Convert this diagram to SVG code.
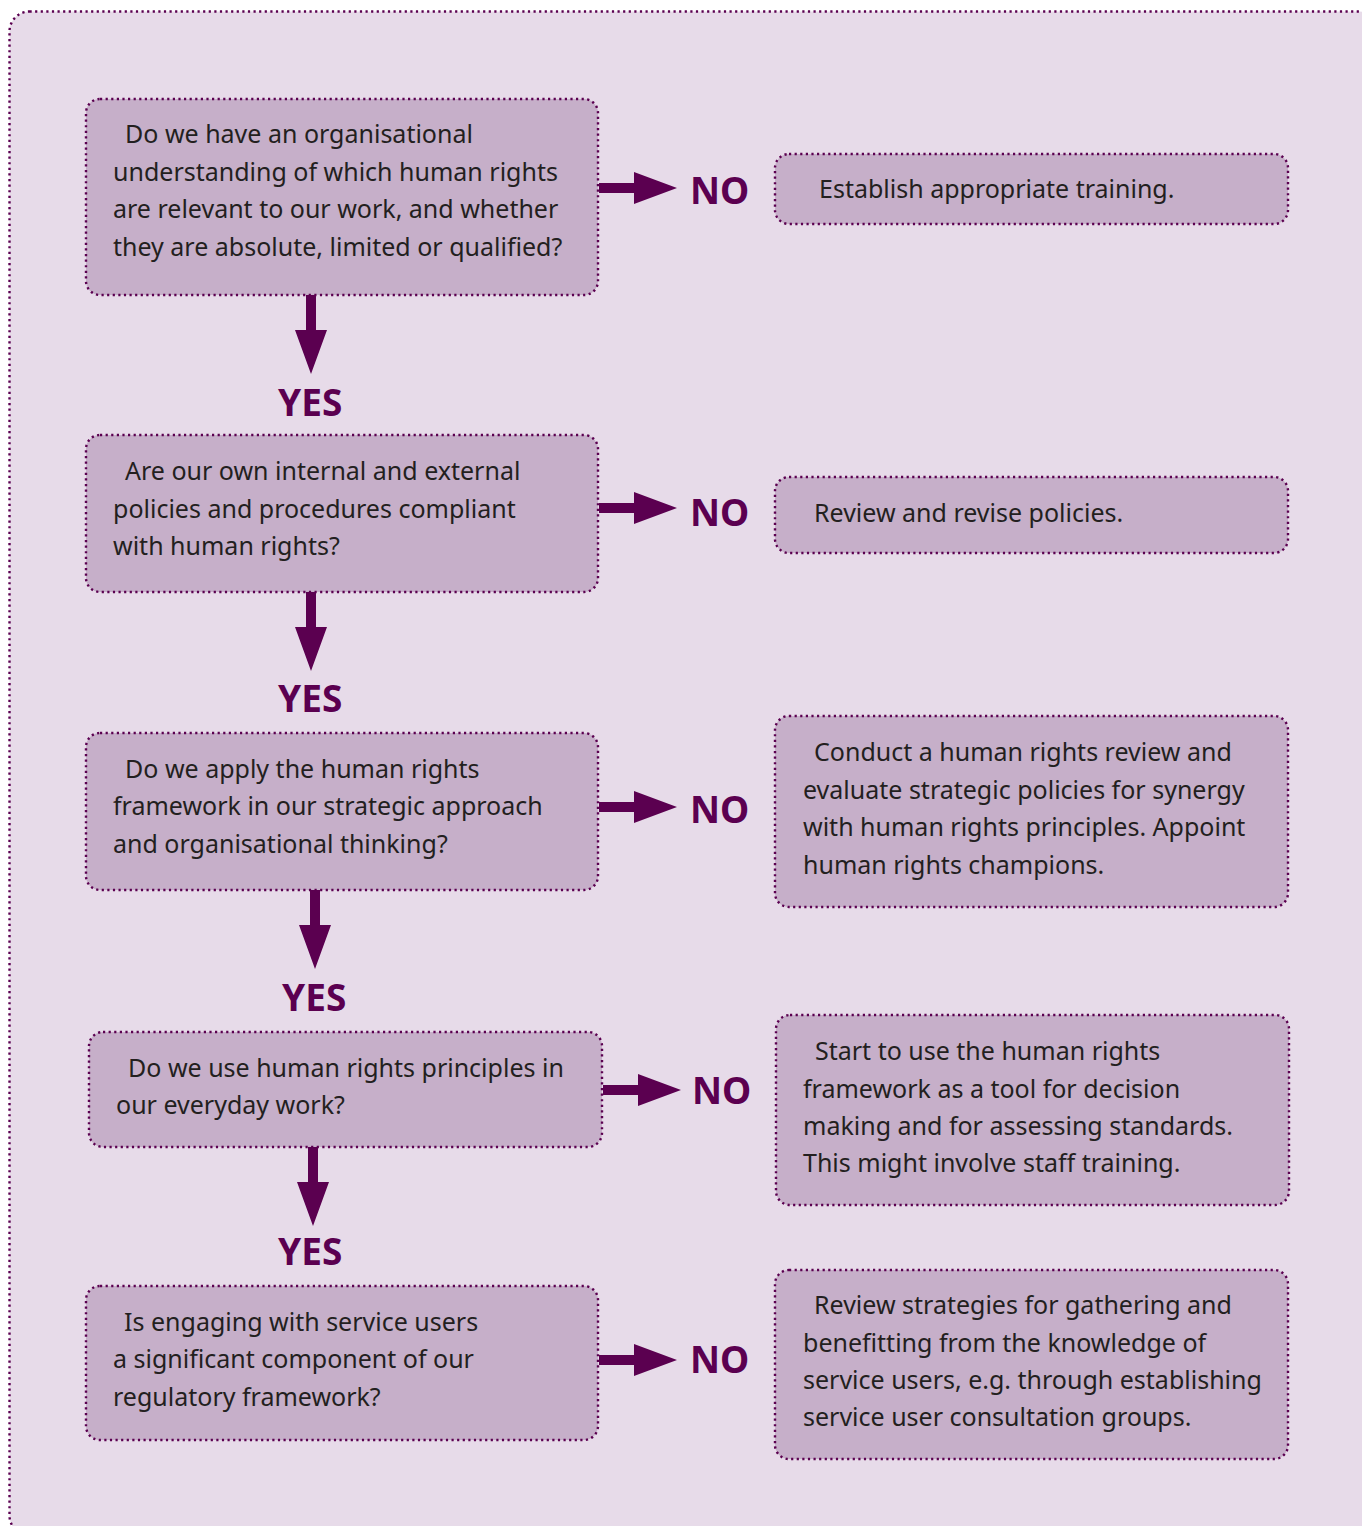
<svg xmlns="http://www.w3.org/2000/svg" xmlns:xlink="http://www.w3.org/1999/xlink" width="1362" height="1526" viewBox="0 0 1362 1526">
<style>
.frame{fill:#e7dbe9;stroke:#5b0050;stroke-width:2.4;stroke-dasharray:2.2 3.4}
.box{fill:#c6afc9;stroke:#5b0050;stroke-width:2.4;stroke-dasharray:2.2 3.4}
.t{font-family:"Noto Sans","Open Sans",sans-serif;font-size:25px;fill:#231f20}
.lbl{font-family:"Noto Sans","Open Sans",sans-serif;font-size:37px;font-weight:bold;fill:#5b0050}
.arr{fill:#5b0050}
</style>
<defs>
<path id="arrowR" d="M0,-5 H35 V-16 L78,0 L35,16 V5 H0 Z"/>
<path id="arrowD" d="M-5,0 V35 H-16 L0,79 L16,35 H5 V0 Z"/>
</defs>
<rect x="0" y="0" width="1362" height="1526" fill="#ffffff"/>
<rect class="frame" x="9.5" y="11.5" width="1370" height="1524" rx="20"/>

<g id="connectors" class="arr">
<use xlink:href="#arrowR" x="599" y="188"/>
<use xlink:href="#arrowR" x="599" y="508"/>
<use xlink:href="#arrowR" x="599" y="807"/>
<use xlink:href="#arrowR" x="603" y="1090"/>
<use xlink:href="#arrowR" x="599" y="1360"/>
<use xlink:href="#arrowD" x="311" y="295"/>
<use xlink:href="#arrowD" x="311" y="592"/>
<use xlink:href="#arrowD" x="315" y="890"/>
<use xlink:href="#arrowD" x="313" y="1147"/>
</g>

<g id="labels">
<text class="lbl" x="690" y="204">NO</text>
<text class="lbl" x="690" y="526">NO</text>
<text class="lbl" x="690" y="823">NO</text>
<text class="lbl" x="692" y="1104">NO</text>
<text class="lbl" x="690" y="1373">NO</text>
<text class="lbl" x="278" y="416">YES</text>
<text class="lbl" x="278" y="712">YES</text>
<text class="lbl" x="282" y="1011">YES</text>
<text class="lbl" x="278" y="1265">YES</text>
</g>

<g id="q1">
<rect class="box" x="86" y="99" width="512" height="196" rx="14"/>
<text class="t"><tspan x="125" y="143">Do we have an organisational</tspan><tspan x="113" y="180.5">understanding of which human rights</tspan><tspan x="113" y="218">are relevant to our work, and whether</tspan><tspan x="113" y="255.5">they are absolute, limited or qualified?</tspan></text>
</g>
<g id="a1">
<rect class="box" x="775" y="154" width="513" height="70" rx="14"/>
<text class="t" x="819" y="198">Establish appropriate training.</text>
</g>

<g id="q2">
<rect class="box" x="86" y="435" width="512" height="157" rx="14"/>
<text class="t"><tspan x="125" y="480">Are our own internal and external</tspan><tspan x="113" y="518">policies and procedures compliant</tspan><tspan x="113" y="555">with human rights?</tspan></text>
</g>
<g id="a2">
<rect class="box" x="775" y="477" width="513" height="76" rx="14"/>
<text class="t" x="814" y="522">Review and revise policies.</text>
</g>

<g id="q3">
<rect class="box" x="86" y="733" width="512" height="157" rx="14"/>
<text class="t"><tspan x="125" y="778">Do we apply the human rights</tspan><tspan x="113" y="815">framework in our strategic approach</tspan><tspan x="113" y="853">and organisational thinking?</tspan></text>
</g>
<g id="a3">
<rect class="box" x="775" y="716" width="513" height="191" rx="14"/>
<text class="t"><tspan x="814" y="761">Conduct a human rights review and</tspan><tspan x="803" y="799">evaluate strategic policies for synergy</tspan><tspan x="803" y="836">with human rights principles. Appoint</tspan><tspan x="803" y="874">human rights champions.</tspan></text>
</g>

<g id="q4">
<rect class="box" x="89" y="1032" width="513" height="115" rx="14"/>
<text class="t"><tspan x="128" y="1077">Do we use human rights principles in</tspan><tspan x="116" y="1114">our everyday work?</tspan></text>
</g>
<g id="a4">
<rect class="box" x="776" y="1015" width="513" height="190" rx="14"/>
<text class="t"><tspan x="815" y="1060">Start to use the human rights</tspan><tspan x="803" y="1098">framework as a tool for decision</tspan><tspan x="803" y="1135">making and for assessing standards.</tspan><tspan x="803" y="1172">This might involve staff training.</tspan></text>
</g>

<g id="q5">
<rect class="box" x="86" y="1286" width="512" height="154" rx="14"/>
<text class="t"><tspan x="124" y="1331">Is engaging with service users</tspan><tspan x="113" y="1368">a significant component of our</tspan><tspan x="113" y="1406">regulatory framework?</tspan></text>
</g>
<g id="a5">
<rect class="box" x="775" y="1270" width="513" height="189" rx="14"/>
<text class="t"><tspan x="814" y="1314">Review strategies for gathering and</tspan><tspan x="803" y="1352">benefitting from the knowledge of</tspan><tspan x="803" y="1389">service users, e.g. through establishing</tspan><tspan x="803" y="1426">service user consultation groups.</tspan></text>
</g>
</svg>
